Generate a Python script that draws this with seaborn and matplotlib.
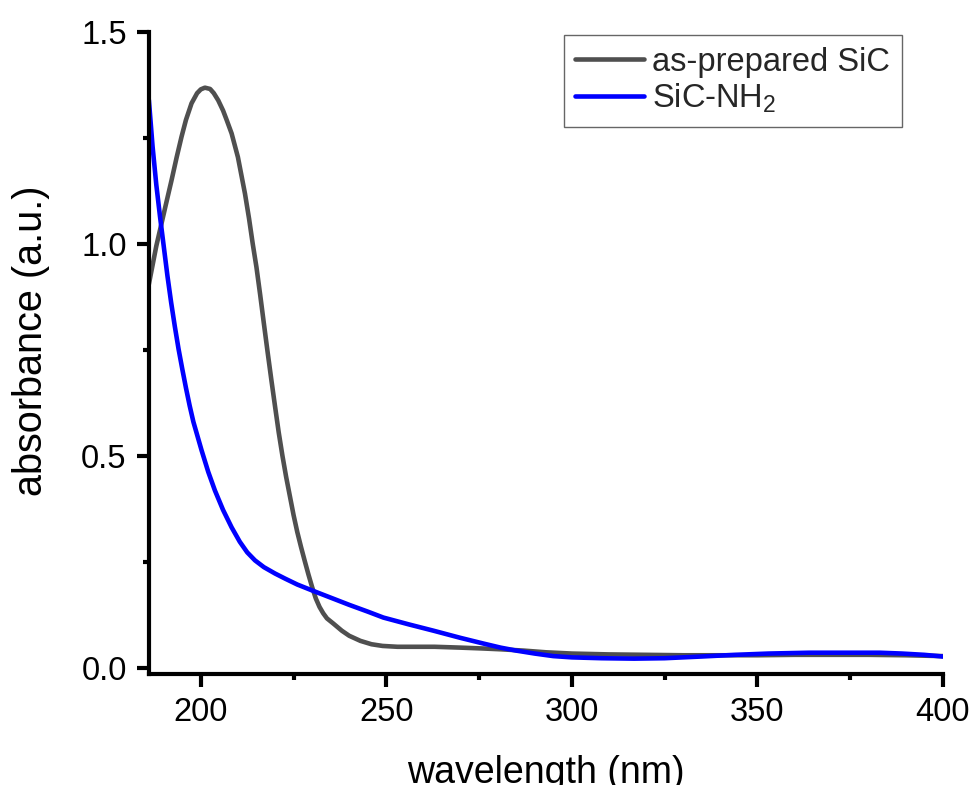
import numpy as np
import pandas as pd
import matplotlib
matplotlib.use("Agg")
import matplotlib.pyplot as plt
from matplotlib.ticker import AutoMinorLocator, FormatStrFormatter
import seaborn as sns

# ---------------- data ----------------
wl_sic = [186, 187, 188, 189.4, 190.5, 192.1, 193.5, 194.8, 196, 197.5, 199, 200,
          201.1, 202.5, 203.5, 204.7, 206, 207, 208.3, 210, 211.9, 213, 214, 215,
          216, 217, 218, 219, 220, 221, 222, 223, 224, 225, 226, 227, 228, 229,
          230, 231, 232, 233, 234, 235.7, 238, 240, 243, 246, 249, 253, 258, 263,
          270, 276, 281, 287, 293, 300, 310, 320, 330, 340, 350, 360, 370, 380,
          390, 400]
abs_sic = [0.905, 0.95, 0.995, 1.048, 1.09, 1.150, 1.205, 1.253, 1.293, 1.332,
           1.356, 1.365, 1.369, 1.366, 1.356, 1.339, 1.315, 1.292, 1.261, 1.205,
           1.119, 1.06, 1.0, 0.945, 0.88, 0.812, 0.745, 0.68, 0.617, 0.555, 0.50,
           0.45, 0.405, 0.36, 0.32, 0.285, 0.252, 0.22, 0.19, 0.163, 0.143, 0.128,
           0.116, 0.104, 0.087, 0.075, 0.063, 0.055, 0.051, 0.049, 0.049, 0.049,
           0.047, 0.045, 0.043, 0.040, 0.036, 0.033, 0.031, 0.030, 0.029, 0.029,
           0.029, 0.030, 0.030, 0.030, 0.029, 0.027]

wl_nh2 = [186, 187, 188, 189, 190, 191, 192, 193, 194, 195, 196, 197, 198, 200.2,
          202, 203.8, 206, 208.3, 210.5, 212.5, 214.6, 217, 220, 222.7, 226,
          230, 235, 240, 245, 249.2, 256, 262.7, 270, 276, 280.8, 285, 290,
          295, 300, 308, 316.8, 325, 334.9, 344, 353, 364, 375, 383, 389, 395, 400]
abs_nh2 = [1.340, 1.23, 1.14, 1.065, 0.995, 0.925, 0.862, 0.805, 0.752, 0.705,
           0.660, 0.618, 0.580, 0.513, 0.462, 0.418, 0.372, 0.331, 0.297, 0.272,
           0.253, 0.237, 0.222, 0.210, 0.196, 0.182, 0.165, 0.148, 0.132, 0.118,
           0.102, 0.087, 0.070, 0.057, 0.047, 0.040, 0.033, 0.027, 0.024, 0.022,
           0.021, 0.022, 0.026, 0.030, 0.033, 0.035, 0.035, 0.035, 0.033, 0.030,
           0.026]

series_names = ["as-prepared SiC", "SiC-NH$_2$"]
series_colors = ["#4f4f4f", "#0000ff"]
x_ticks = [200, 250, 300, 350, 400]
y_ticks = [0.0, 0.5, 1.0, 1.5]

df = pd.concat([
    pd.DataFrame({"wavelength": wl_sic, "absorbance": abs_sic, "sample": series_names[0]}),
    pd.DataFrame({"wavelength": wl_nh2, "absorbance": abs_nh2, "sample": series_names[1]}),
], ignore_index=True)

# ---------------- style ----------------
sns.set_theme(style="ticks")
plt.rcParams["font.family"] = ["Liberation Sans", "DejaVu Sans"]
plt.rcParams["mathtext.default"] = "regular"

fig, ax = plt.subplots(figsize=(9.73, 7.85), dpi=100)
fig.subplots_adjust(left=0.153, right=0.969, top=0.959, bottom=0.141)

sns.lineplot(data=df, x="wavelength", y="absorbance", hue="sample",
             hue_order=series_names, palette=dict(zip(series_names, series_colors)),
             estimator=None, sort=False, linewidth=3.3, ax=ax)

ax.set_xlim(186, 400)
ax.set_ylim(-0.016, 1.5)
ax.set_xticks(x_ticks)
ax.set_yticks(y_ticks)
ax.yaxis.set_major_formatter(FormatStrFormatter("%.1f"))
ax.xaxis.set_minor_locator(AutoMinorLocator(2))
ax.yaxis.set_minor_locator(AutoMinorLocator(2))

sns.despine(ax=ax)
for s in ["left", "bottom"]:
    ax.spines[s].set_linewidth(3.0)
    ax.spines[s].set_color("black")
    ax.spines[s].set_capstyle("projecting")

ax.tick_params(axis="both", which="major", direction="out", length=9, width=3.0,
               labelsize=23.5, pad=7, color="black", labelcolor="black")
ax.tick_params(axis="both", which="minor", direction="out", length=4.5, width=3.0,
               color="black")

ax.set_xlabel("wavelength (nm)", fontsize=27, labelpad=20, color="black")
ax.set_ylabel("absorbance (a.u.)", fontsize=28.5, color="black")
ax.yaxis.set_label_coords(-0.125, 0.52)

handles, labels = ax.get_legend_handles_labels()
leg = ax.legend(handles, labels, loc="upper right", bbox_to_anchor=(0.948, 0.995),
                borderaxespad=0, frameon=True, fancybox=False, framealpha=1,
                edgecolor="#666666", fontsize=23.5, handlelength=2.1,
                handletextpad=0.25, labelspacing=0.12, borderpad=0.35)
leg.get_frame().set_linewidth(1.0)
for h in leg.get_lines():
    h.set_linewidth(3.3)

fig.savefig("out.png", dpi=100, facecolor="white")
